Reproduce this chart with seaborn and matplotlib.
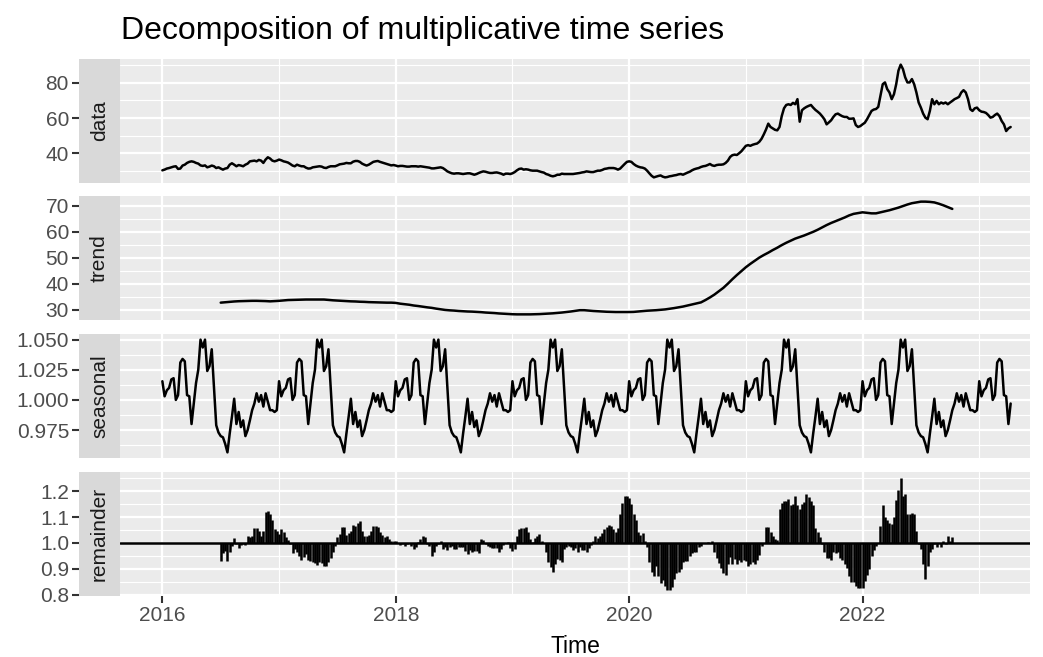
import numpy as np
import pandas as pd
import matplotlib
matplotlib.use("Agg")
import matplotlib.pyplot as plt
import seaborn as sns

# ---------------------------------------------------------------------------
# Weekly series (frequency 52), starting at 2016 week 1
# ---------------------------------------------------------------------------
data_2016 = [30.3, 30.7, 31.3, 31.6, 32.0, 32.4, 32.6, 31.1, 31.3, 33.0,
             33.5, 34.5, 35.1, 35.4, 35.1, 34.5, 34.1, 33.1, 32.8, 33.1,
             32.0, 32.4, 33.0, 32.6, 31.6, 32.0, 31.3, 30.7, 31.3, 31.6,
             33.5, 34.3, 33.5, 32.6, 33.3, 33.0, 32.6, 33.5, 34.1, 35.4,
             35.6, 35.8, 35.4, 36.2, 35.8, 34.5, 36.4, 37.7, 37.0, 35.8,
             35.4, 35.8]
data_2017 = [36.4, 36.0, 35.4, 35.1, 34.7, 33.9, 33.0, 32.6, 33.5, 33.0,
             32.6, 32.6, 31.8, 31.3, 31.4, 32.0, 32.2, 32.4, 32.6, 32.4,
             31.8, 31.6, 32.2, 32.6, 32.6, 32.6, 33.1, 33.7, 33.9, 34.1,
             34.5, 34.3, 34.3, 35.2, 35.6, 35.6, 35.1, 34.1, 33.5, 33.0,
             33.5, 34.3, 35.1, 35.4, 35.6, 35.1, 34.7, 34.3, 33.9, 33.5,
             33.1, 33.3]
data_2018 = [33.0, 32.6, 32.8, 32.8, 32.6, 32.4, 32.4, 32.6, 32.6, 32.6,
             32.4, 32.6, 32.4, 32.2, 32.0, 31.8, 31.4, 31.4, 31.6, 31.8,
             32.0, 31.6, 30.7, 29.7, 29.1, 28.6, 28.4, 28.6, 28.6, 28.4,
             28.2, 28.4, 28.6, 28.6, 28.2, 27.8, 28.2, 28.8, 29.3, 29.7,
             29.5, 29.1, 28.8, 28.8, 29.0, 29.1, 28.8, 28.4, 27.8, 28.4,
             28.4, 28.2]
data_2019 = [28.6, 29.3, 30.3, 31.1, 31.3, 30.7, 30.9, 30.7, 30.3, 30.1,
             30.1, 30.1, 29.7, 29.3, 29.0, 28.2, 27.8, 27.2, 26.9, 27.2,
             27.8, 27.8, 28.4, 28.2, 28.2, 28.2, 28.2, 28.2, 28.4, 28.6,
             28.8, 29.1, 29.3, 29.7, 29.5, 29.3, 29.3, 29.7, 30.1, 30.1,
             30.5, 31.1, 31.3, 31.6, 31.6, 31.6, 31.3, 30.7, 31.3, 32.6,
             33.9, 35.1]
data_2020 = [35.4, 35.1, 33.9, 33.0, 32.4, 32.0, 31.8, 31.3, 30.1, 28.6,
             27.2, 26.3, 26.7, 27.1, 27.4, 26.7, 26.3, 26.5, 26.9, 27.1,
             27.4, 27.6, 28.0, 28.2, 27.8, 28.4, 29.0, 29.5, 30.3, 30.9,
             31.3, 31.6, 32.2, 32.6, 32.8, 33.3, 33.9, 33.1, 32.8, 33.3,
             33.5, 33.5, 33.7, 34.5, 35.8, 37.9, 38.9, 39.2, 39.0, 40.0,
             41.1, 42.7]
data_2021 = [44.2, 44.6, 44.2, 44.8, 45.2, 45.5, 46.5, 48.2, 50.7, 53.5,
             56.8, 54.9, 54.1, 53.3, 53.0, 54.9, 61.1, 65.5, 67.4, 67.8,
             67.4, 68.6, 67.8, 70.7, 57.9, 64.4, 65.5, 66.3, 66.9, 67.4,
             65.9, 64.6, 63.6, 62.5, 61.0, 59.3, 56.4, 57.5, 58.7, 60.6,
             62.1, 62.5, 61.7, 61.0, 60.6, 60.6, 59.6, 59.6, 59.8, 56.0,
             54.9, 55.4]
data_2022 = [56.4, 57.3, 59.3, 61.7, 64.0, 64.8, 65.1, 66.3, 72.6, 79.2,
             80.2, 76.4, 74.5, 70.7, 73.5, 79.2, 86.9, 90.3, 87.8, 83.1,
             80.2, 80.2, 82.1, 79.2, 74.5, 68.8, 65.9, 62.5, 60.2, 59.3,
             64.0, 70.7, 67.8, 69.7, 67.8, 68.8, 68.2, 68.8, 67.8, 68.8,
             69.7, 70.7, 71.3, 72.0, 74.5, 75.8, 74.5, 70.7, 65.0, 64.0,
             65.5, 65.9]
data_2023 = [64.4, 63.6, 63.4, 62.9, 61.7, 60.2, 60.6, 61.7, 62.5, 61.1,
             58.3, 56.4, 52.6, 54.1, 54.9]

# Seasonal figure: one value per week of the year
seasonal_figure = [1.0155, 1.003, 1.008, 1.010, 1.017, 1.018, 1.000, 1.004, 1.031, 1.034,
                   1.032, 1.004, 1.003, 0.980, 0.997, 1.014, 1.025, 1.050, 1.0435, 1.050,
                   1.024, 1.028, 1.042, 1.011, 0.979, 0.973, 0.970, 0.969, 0.9635, 0.9565,
                   0.972, 0.986, 1.001, 0.980, 0.990, 0.9775, 0.983, 0.970, 0.975, 0.983,
                   0.9915, 0.997, 1.0055, 0.9985, 1.004, 0.9945, 1.0055, 0.9985, 0.9915, 0.9915,
                   0.990, 0.9915]

# Trend (centred moving average), every second week from week 26 to week 352
trend_start_week = 26
trend_step_weeks = 2
trend_values = [32.8, 32.95, 33.1, 33.25, 33.35, 33.4, 33.45, 33.5, 33.5, 33.45,
                33.4, 33.3, 33.4, 33.5, 33.65, 33.8, 33.85, 33.9, 33.95, 34.0,
                34.0, 34.0, 34.0, 34.0, 33.85, 33.7, 33.6, 33.5, 33.4, 33.3,
                33.25, 33.15, 33.1, 33.0, 32.95, 32.9, 32.85, 32.8, 32.8, 32.7,
                32.4, 32.2, 32.0, 31.7, 31.5, 31.25, 31.0, 30.8, 30.5, 30.25,
                30.0, 29.85, 29.75, 29.6, 29.5, 29.4, 29.35, 29.25, 29.15, 29.0,
                28.9, 28.8, 28.65, 28.55, 28.45, 28.35, 28.3, 28.3, 28.3, 28.3,
                28.35, 28.4, 28.5, 28.6, 28.7, 28.85, 29.0, 29.2, 29.4, 29.65,
                29.9, 29.9, 29.75, 29.6, 29.5, 29.4, 29.3, 29.25, 29.2, 29.2,
                29.2, 29.2, 29.25, 29.4, 29.55, 29.7, 29.8, 29.9, 30.05, 30.2,
                30.45, 30.7, 31.0, 31.3, 31.7, 32.1, 32.5, 32.9, 33.8, 34.8,
                35.9, 37.2, 38.5, 40.1, 41.8, 43.4, 44.9, 46.4, 47.7, 48.9,
                50.1, 51.1, 52.0, 53.0, 53.9, 54.9, 55.8, 56.6, 57.4, 58.0,
                58.6, 59.3, 60.0, 60.8, 61.7, 62.6, 63.4, 64.1, 64.8, 65.5,
                66.3, 66.9, 67.2, 67.5, 67.3, 67.1, 67.1, 67.5, 67.9, 68.3,
                68.8, 69.3, 69.9, 70.5, 71.0, 71.3, 71.6, 71.6, 71.5, 71.3,
                70.8, 70.2, 69.5, 68.8]

# Remainder, weekly from week 26 to week 352
remainder_start_week = 26
remainder_2016 = [0.932, 0.961, 0.970, 0.932, 0.966, 0.990, 1.018, 0.996, 0.979, 0.992,
                  0.995, 0.992, 1.028, 1.022, 1.028, 1.059, 1.059, 1.045, 1.028, 1.048,
                  1.119, 1.123, 1.112, 1.087, 1.052, 1.048]
remainder_2017 = [1.035, 1.052, 1.041, 1.022, 1.013, 0.996, 0.961, 0.977, 0.966, 0.951,
                  0.934, 0.944, 0.957, 0.935, 0.932, 0.928, 0.921, 0.915, 0.925, 0.922,
                  0.910, 0.912, 0.925, 0.941, 0.964, 0.990, 1.022, 1.035, 1.061, 1.061,
                  1.032, 1.037, 1.048, 1.070, 1.067, 1.078, 1.083, 1.048, 1.028, 1.028,
                  1.031, 1.047, 1.065, 1.067, 1.061, 1.041, 1.031, 1.023, 1.026, 1.016,
                  1.009, 1.008]
remainder_2018 = [1.009, 1.000, 0.992, 0.994, 0.990, 0.994, 0.999, 0.990, 0.977, 0.983,
                  1.003, 1.016, 1.028, 1.022, 0.996, 0.990, 0.948, 0.964, 0.990, 0.996,
                  1.009, 0.977, 0.983, 0.974, 0.983, 0.987, 0.977, 0.977, 0.983, 0.983,
                  0.983, 0.970, 0.957, 0.974, 0.966, 0.970, 0.970, 0.961, 1.016, 1.013,
                  0.996, 0.990, 0.984, 0.979, 0.982, 0.979, 0.966, 0.977, 0.992, 1.000,
                  1.005, 0.979]
remainder_2019 = [0.970, 0.977, 1.026, 1.052, 1.057, 1.057, 1.063, 1.044, 1.016, 1.003,
                  1.018, 1.026, 1.035, 1.009, 1.000, 0.964, 0.925, 0.906, 0.889, 0.919,
                  0.938, 0.935, 0.927, 0.977, 0.986, 0.990, 0.983, 0.973, 0.982, 0.966,
                  0.983, 0.974, 0.974, 0.966, 0.979, 0.992, 1.009, 1.026, 1.018, 1.028,
                  1.039, 1.052, 1.062, 1.070, 1.065, 1.052, 1.041, 1.059, 1.112, 1.155,
                  1.183, 1.180]
remainder_2020 = [1.174, 1.151, 1.112, 1.087, 1.041, 1.031, 1.037, 1.009, 0.983, 0.925,
                  0.886, 0.873, 0.910, 0.873, 0.845, 0.858, 0.832, 0.817, 0.817, 0.831,
                  0.860, 0.884, 0.886, 0.899, 0.925, 0.931, 0.931, 0.951, 0.960, 0.966,
                  0.964, 0.983, 0.990, 1.000, 1.000, 1.003, 1.000, 1.009, 0.966, 0.941,
                  0.922, 0.902, 0.884, 0.876, 0.919, 0.944, 0.920, 0.938, 0.920, 0.935,
                  0.925, 0.935]
remainder_2021 = [0.932, 0.912, 0.917, 0.925, 0.919, 0.935, 0.953, 0.990, 1.000, 1.061,
                  1.061, 1.044, 1.026, 1.014, 1.013, 1.132, 1.154, 1.160, 1.163, 1.168,
                  1.147, 1.151, 1.181, 1.147, 1.132, 1.151, 1.158, 1.190, 1.178, 1.162,
                  1.145, 1.057, 1.044, 1.022, 0.996, 0.964, 0.941, 0.941, 0.935, 0.964,
                  0.961, 0.964, 0.941, 0.934, 0.919, 0.902, 0.873, 0.850, 0.848, 0.835,
                  0.826, 0.827]
remainder_2022 = [0.828, 0.854, 0.876, 0.899, 0.951, 0.973, 0.987, 1.000, 1.067, 1.145,
                  1.099, 1.090, 1.078, 1.074, 1.099, 1.164, 1.203, 1.252, 1.183, 1.190,
                  1.112, 1.112, 1.115, 1.112, 1.048, 0.994, 0.977, 0.919, 0.860, 0.912,
                  0.964, 0.977, 0.996, 0.983, 0.999, 0.984, 1.009, 0.996, 1.026, 1.009,
                  1.022]

panel_names = ["data", "trend", "seasonal", "remainder"]
y_ticks = {
    "data": [40, 60, 80],
    "trend": [30, 40, 50, 60, 70],
    "seasonal": [0.975, 1.000, 1.025, 1.050],
    "remainder": [0.8, 0.9, 1.0, 1.1, 1.2],
}
y_tick_labels = {
    "data": ["40", "60", "80"],
    "trend": ["30", "40", "50", "60", "70"],
    "seasonal": ["0.975", "1.000", "1.025", "1.050"],
    "remainder": ["0.8", "0.9", "1.0", "1.1", "1.2"],
}
x_ticks = [2016, 2018, 2020, 2022]
x_tick_labels = ["2016", "2018", "2020", "2022"]

# ---------------------------------------------------------------------------
# Assemble series on a common decimal-year time axis
# ---------------------------------------------------------------------------
freq = 52
start_year = 2016
data_values = np.array(data_2016 + data_2017 + data_2018 + data_2019 +
                       data_2020 + data_2021 + data_2022 + data_2023)
n_obs = len(data_values)
weeks = np.arange(n_obs)
time = start_year + weeks / freq

seasonal_values = np.array(seasonal_figure)[weeks % freq]

trend_weeks = trend_start_week + trend_step_weeks * np.arange(len(trend_values))
trend_time = start_year + trend_weeks / freq

remainder_values = np.array(remainder_2016 + remainder_2017 + remainder_2018 +
                            remainder_2019 + remainder_2020 + remainder_2021 +
                            remainder_2022)
remainder_weeks = remainder_start_week + np.arange(len(remainder_values))
remainder_time = start_year + remainder_weeks / freq

frames = {
    "data": pd.DataFrame({"time": time, "value": data_values}),
    "trend": pd.DataFrame({"time": trend_time, "value": trend_values}),
    "seasonal": pd.DataFrame({"time": time, "value": seasonal_values}),
    "remainder": pd.DataFrame({"time": remainder_time, "value": remainder_values}),
}

# ---------------------------------------------------------------------------
# Figure layout (ggplot-like facets with strips on the left)
# ---------------------------------------------------------------------------
sns.set_theme(style="darkgrid")
plt.rcParams["font.family"] = ["Liberation Sans", "DejaVu Sans"]

W, H = 1043, 657
fig = plt.figure(figsize=(W / 100, H / 100), dpi=100)
fig.patch.set_facecolor("white")


def px_axes(left, top, right, bottom):
    return fig.add_axes([left / W, 1 - bottom / H, (right - left) / W, (bottom - top) / H])


panel_left, panel_right = 120, 1030
strip_left = 79
rows = [(59, 183), (196, 320), (334, 458), (472, 596)]

x_min_year, x_max_year = 2015.637, 2023.435

panel_bg = "#EBEBEB"
strip_bg = "#D9D9D9"
tick_col = "#333333"
label_col = "#4D4D4D"
text_col = "#1A1A1A"
line_w = 1.8
grid_major = 1.6
grid_minor = 0.8
tick_fs = 15


def expanded(lo, hi, frac=0.05):
    span = hi - lo
    return lo - frac * span, hi + frac * span


for name, (top, bottom) in zip(panel_names, rows):
    ax = px_axes(panel_left, top, panel_right, bottom)
    df = frames[name]
    ax.set_facecolor(panel_bg)

    if name == "remainder":
        ax.axhline(1.0, color="black", lw=line_w, zorder=3)
        ax.vlines(df["time"], 1.0, df["value"], color="black", lw=line_w, zorder=3)
    else:
        sns.lineplot(data=df, x="time", y="value", ax=ax, color="black",
                     linewidth=line_w, estimator=None, sort=False, zorder=3)

    ylo, yhi = expanded(df["value"].min(), df["value"].max())
    ax.set_ylim(ylo, yhi)
    ax.set_xlim(x_min_year, x_max_year)

    # grid: major + minor white lines
    yt = y_ticks[name]
    step = yt[1] - yt[0]
    y_minor = [v + step / 2 for v in [yt[0] - step] + yt]
    x_minor = [2015, 2017, 2019, 2021, 2023]
    ax.grid(False)
    for v in y_minor:
        ax.axhline(v, color="white", lw=grid_minor, zorder=1)
    for v in yt:
        ax.axhline(v, color="white", lw=grid_major, zorder=1)
    for v in x_minor:
        ax.axvline(v, color="white", lw=grid_minor, zorder=1)
    for v in x_ticks:
        ax.axvline(v, color="white", lw=grid_major, zorder=1)

    for s in ax.spines.values():
        s.set_visible(False)
    ax.set_yticks([])
    ax.set_ylabel("")
    ax.set_xlabel("")
    if name == "remainder":
        ax.set_xticks(x_ticks)
        ax.set_xticklabels(x_tick_labels)
        ax.tick_params(axis="x", length=4.7, width=1.5, color=tick_col,
                       labelcolor=label_col, labelsize=tick_fs, pad=2.5, bottom=True)
    else:
        ax.set_xticks([])

    # strip holding the facet label; the y axis sits on its outer side
    sax = px_axes(strip_left, top, panel_left, bottom)
    sax.set_facecolor(strip_bg)
    sax.grid(False)
    for s in sax.spines.values():
        s.set_visible(False)
    sax.set_xlim(0, 1)
    sax.set_ylim(ylo, yhi)
    sax.set_xticks([])
    sax.set_yticks(yt)
    sax.set_yticklabels(y_tick_labels[name])
    sax.tick_params(axis="y", length=4.7, width=1.5, color=tick_col,
                    labelcolor=label_col, labelsize=tick_fs, pad=2.5, left=True)
    sax.text(0.5, 0.5, name, rotation=90, ha="center", va="center",
             transform=sax.transAxes, fontsize=15, color=text_col)

fig.text(panel_left / W + 0.001, 1 - 39 / H, "Decomposition of multiplicative time series",
         fontsize=23, color="black", ha="left", va="baseline")
fig.text((panel_left + panel_right) / 2 / W, 1 - 653 / H, "Time",
         fontsize=16.5, color="black", ha="center", va="baseline")

fig.savefig("out.png", dpi=100)
